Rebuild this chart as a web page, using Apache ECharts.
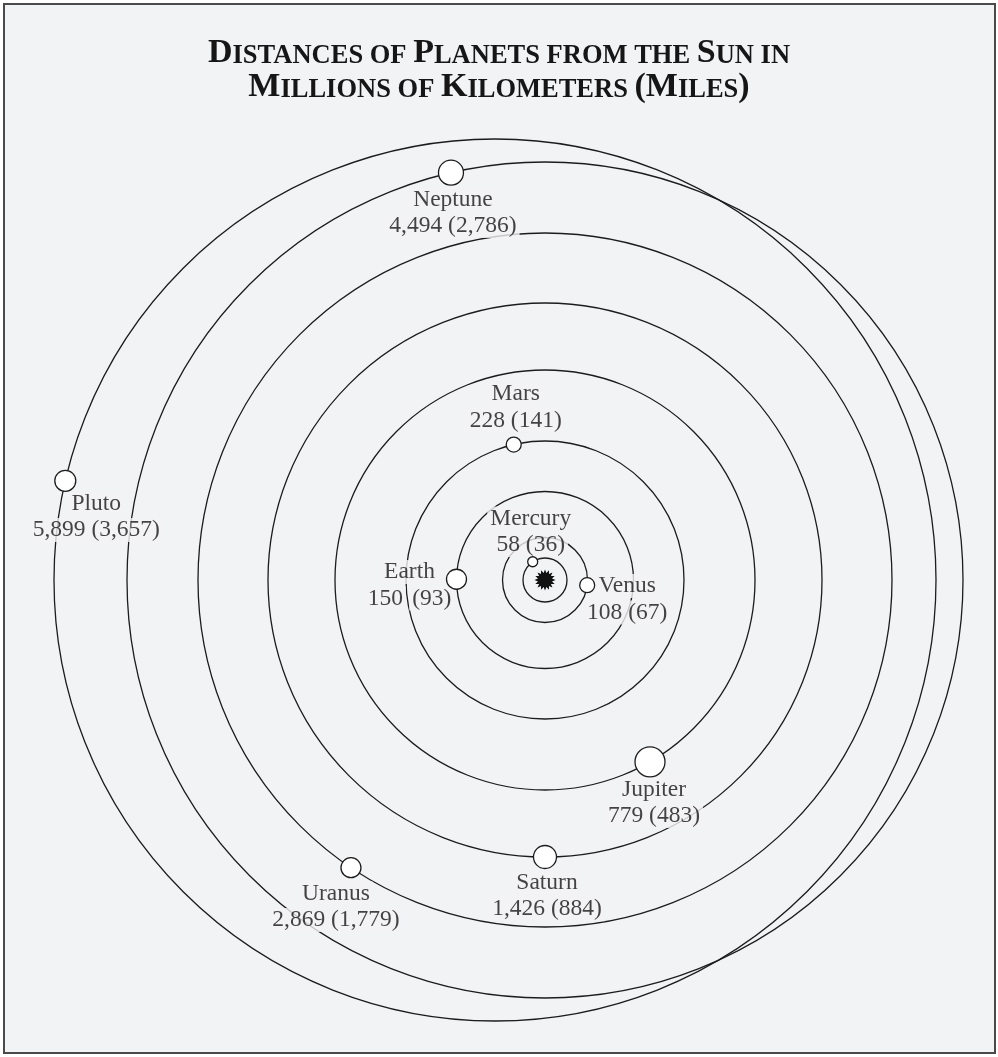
<!DOCTYPE html>
<html><head><meta charset="utf-8">
<script src="https://cdn.jsdelivr.net/npm/echarts@6/dist/echarts.min.js"></script>
<style>html,body{margin:0;padding:0;background:#fff}#chart{width:998px;height:1057px}</style>
</head><body><div id="chart"></div>
<script>
// ---- data ----
const planets = ['Mercury','Venus','Earth','Mars','Jupiter','Saturn','Uranus','Neptune','Pluto'];
const distanceKm = ['58','108','150','228','779','1,426','2,869','4,494','5,899'];
const distanceMiles = ['36','67','93','141','483','884','1,779','2,786','3,657'];
// diagram (not to scale) orbit radii and orbit centres, in diagram units relative to the Sun
const orbitRadius = [22, 42.5, 88.5, 139, 210, 277, 347, 418, 441];
const orbitCenterX = [0, 0, 0, 0, 0, 0, 0, 0, -50];
const orbitCenterY = [0, 0, 0, 0, 0, 0, 0, 0, 0];
// angle of each planet on its orbit, degrees counter-clockwise from +x
const planetAngle = [124, -7, 179.5, 103, -60, -90, -124, 103, 167];

// ---- styles / layout ----
const W = 998, H = 1057, SUN_PX = 545, SUN_PY = 580;
const planetSymbolSize = [10, 15, 20, 15, 30, 23, 20, 25, 21];
const labelOffset = [[-2,-30],[40,14],[-47,6],[2,-37],[4,41],[2,39],[-15,39],[2,40],[31,36]];
const labelWordGaps = [false, false, true, false, false, false, false, false, false];
const BG = '#f2f3f5', INK = '#1c1c1c';

const planetXY = planets.map((p, i) => {
  const a = planetAngle[i] * Math.PI / 180;
  return [orbitCenterX[i] + orbitRadius[i] * Math.cos(a), orbitCenterY[i] + orbitRadius[i] * Math.sin(a)];
});

// sun glyph
function starPath(n, rIn) {
  let d = '';
  for (let k = 0; k < 2 * n; k++) {
    const r = k % 2 === 0 ? 1 : rIn;
    const a = Math.PI * k / n;
    d += (k === 0 ? 'M' : 'L') + (r * Math.cos(a)).toFixed(3) + ' ' + (r * Math.sin(a)).toFixed(3) + ' ';
  }
  return 'path://' + d + 'Z';
}

function labelText(i) {
  const lines = [planets[i], distanceKm[i] + ' (' + distanceMiles[i] + ')'];
  return lines.map(line => labelWordGaps[i]
      ? line.split(' ').map(w => '{w|' + w + '}').join(' ')
      : '{w|' + line + '}').join('\n');
}

const chart = echarts.init(document.getElementById('chart'), null, {renderer: 'canvas'});
chart.setOption({
  backgroundColor: '#ffffff',
  animation: false,
  graphic: [{
    type: 'rect', z: -10, silent: true,
    shape: {x: 4, y: 4, width: 991, height: 1049},
    style: {fill: BG, stroke: '#4a4a4a', lineWidth: 2}
  }],
  title: {
    left: 'center', top: 31,
    text: '{b|D}{s|ISTANCES OF }{b|P}{s|LANETS FROM THE }{b|S}{s|UN IN}\n{b|M}{s|ILLIONS OF }{b|K}{s|ILOMETERS }{b|(M}{s|ILES}{b|)}',
    textStyle: {
      rich: {
        b: {fontFamily: 'Liberation Serif', fontWeight: 'bold', fontSize: 34, color: '#161616', verticalAlign: 'bottom'},
        s: {fontFamily: 'Liberation Serif', fontWeight: 'bold', fontSize: 26.5, color: '#161616', verticalAlign: 'bottom'}
      }
    }
  },
  grid: {left: 0, top: 0, width: W, height: H, containLabel: false},
  xAxis: {type: 'value', min: -SUN_PX, max: W - SUN_PX, show: false},
  yAxis: {type: 'value', min: -(H - SUN_PY), max: SUN_PY, show: false},
  series: [
    {
      type: 'custom', z: 2, silent: true,
      data: orbitRadius.map((r, i) => [orbitCenterX[i], orbitCenterY[i], r]),
      renderItem: function (params, api) {
        const c = api.coord([api.value(0), api.value(1)]);
        const e = api.coord([api.value(0) + api.value(2), api.value(1)]);
        return {type: 'circle', shape: {cx: c[0], cy: c[1], r: e[0] - c[0]},
          style: {fill: 'none', stroke: INK, lineWidth: 1.3}};
      }
    },
    {
      type: 'scatter', z: 3, silent: true,
      symbol: 'circle', symbolSize: 1,
      itemStyle: {color: 'rgba(0,0,0,0)'},
      data: planetXY.map((xy, i) => ({
        value: xy,
        label: {offset: labelOffset[i]}
      })),
      label: {
        show: true, position: 'inside', align: 'center', verticalAlign: 'middle',
        formatter: p => labelText(p.dataIndex),
        rich: {
          w: {fontFamily: 'Liberation Serif', fontSize: 23.5, color: '#151515', lineHeight: 26.5,
              backgroundColor: BG, padding: [0, 3]}
        }
      }
    },
    {
      type: 'scatter', z: 4, silent: true,
      symbol: 'circle',
      data: planetXY.map((xy, i) => ({value: xy, symbolSize: planetSymbolSize[i]})),
      itemStyle: {color: '#ffffff', borderColor: INK, borderWidth: 1.3, opacity: 1}
    },
    {
      type: 'scatter', z: 4, silent: true,
      symbol: starPath(16, 0.68), symbolSize: 21,
      data: [[0, 0]],
      itemStyle: {color: '#111', opacity: 1}
    }
  ]
});
</script></body></html>
